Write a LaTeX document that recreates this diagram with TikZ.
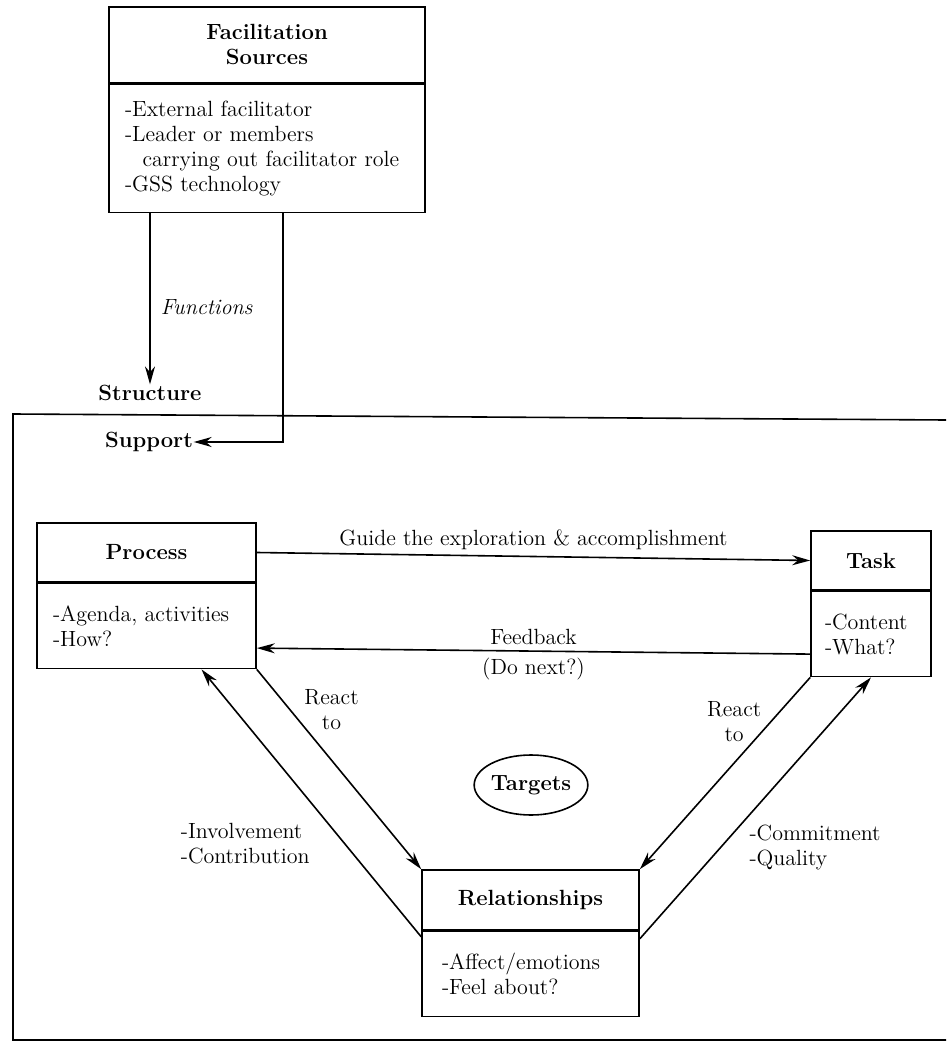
\documentclass[tikz,border=0pt]{standalone}
\usepackage{amsmath}
\usepackage{tikz}
\usetikzlibrary{arrows,arrows.meta,shapes,positioning}

\begin{document}
\begin{tikzpicture}[x=0.5pt,y=-0.5pt,>={Stealth[length=9pt,width=5pt]},line width=0.8pt]
  \tikzstyle{every node}=[font=\fontsize{11}{12.5}\selectfont]
  \tikzstyle{head}=[rectangle,draw,align=center,inner sep=0pt,
  		    font=\fontsize{11}{12.5}\selectfont\bfseries]
  \tikzstyle{body}=[rectangle,draw,align=left,inner xsep=8pt,inner ysep=0pt]
  \tikzstyle{lbl}=[inner sep=0pt]
  \useasboundingbox (0,0) rectangle (946,1047);
  % sources and functions
  \node [head,minimum width=158pt,minimum height=38pt] (fsrc) at (267,45) {Facilitation\\Sources};
  \node [body,text width=142pt,minimum height=64pt,below=0pt of fsrc] (fsrcb)
    {-External facilitator\\-Leader or members\\\hspace*{0.8em}carrying out facilitator role\\-GSS technology};
  \node [head,draw=none] (struc) at (150,393) {Structure};
  \node [head,draw=none] (supp) at (149,442) {Support};
  \coordinate (turn) at (283,442);
  \draw [->] (fsrcb.south -| struc.north) -- node[lbl,pos=0.55,right=5pt,font=\fontsize{11}{12.5}\selectfont\itshape] {Functions} (struc.north);
  \draw [->] (fsrcb.south -| turn) -- (turn) -- (supp.east);
  % frame
  \draw (946,420) -- (13,414) -- (13,1040) -- (946,1040);
  % targets
  \node [head,minimum width=109.5pt,minimum height=29.5pt] (proc) at (146.5,552.5) {Process};
  \node [body,text width=93.5pt,minimum height=42.5pt,below=0pt of proc] (procb) {-Agenda, activities\\-How?};
  \node [head,minimum width=60pt,minimum height=29.5pt] (task) at (871,560.5) {Task};
  \node [body,inner xsep=7pt,text width=46pt,minimum height=42.5pt,below=0pt of task] (taskb) {-Content\\-What?};
  \node [head,minimum width=108.5pt,minimum height=30pt] (rel) at (530.5,900) {Relationships};
  \node [body,inner xsep=10pt,text width=88.5pt,minimum height=42.5pt,below=0pt of rel] (relb) {-Affect/emotions\\-Feel about?};
  \node [head,ellipse,minimum width=53.5pt,minimum height=30pt] (tgt) at (531,785) {Targets};
  \draw [->] (proc.east) -- node[above=3pt,lbl] {Guide the exploration \& accomplishment} (task.west);
  \draw [->] ([yshift=-10pt]taskb.west) -- node[above=3pt,lbl] {Feedback} node[below=3pt,lbl] {(Do next?)} ([yshift=-11pt]procb.east);
  \draw [->] (procb.south east) -- node[lbl,pos=0.2,right=7pt,align=center] {React\\to} (rel.north west);
  \draw [->] ([yshift=-3pt]relb.north west) -- node[lbl,pos=0.35,left=17pt,align=left] {-Involvement\\-Contribution} ([xshift=27.5pt]procb.south);
  \draw [->] (taskb.south west) -- node[lbl,pos=0.23,left=4.5pt,align=center] {React\\to} (rel.north east);
  \draw [->] ([yshift=-4pt]relb.north east) -- node[lbl,pos=0.35,right=14pt,align=left] {-Commitment\\-Quality} (taskb.south);
\end{tikzpicture}
\end{document}
